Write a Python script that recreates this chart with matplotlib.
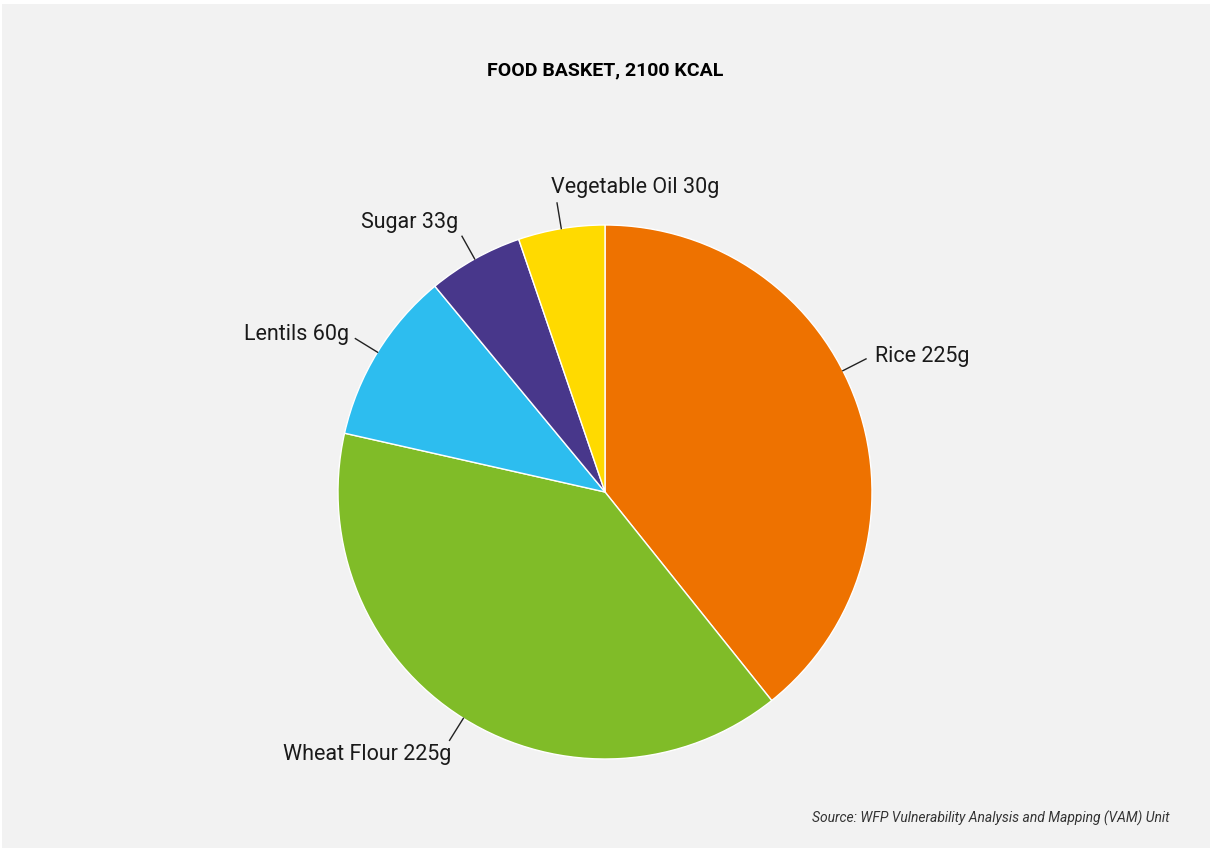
import numpy as np
import matplotlib.pyplot as plt
from matplotlib.patches import Rectangle

### Data ###
foods = ["Rice", "Wheat Flour", "Lentils", "Sugar", "Vegetable Oil"]
grams = [225, 225, 60, 33, 30]
colors = ["#ee7200", "#80bc28", "#2dbdef", "#48378b", "#ffda00"]

### Label layout (pixels) ###
# extra angle to nudge a label anchor away from the slice middle
label_shift = [7.7, 0, 0, 0, 0]
# text offset from the end of the connector, and alignment
text_offset = [(9, 2), (2, -14), (-6, 4), (-4, 14), (-6, 15)]
text_align = ["left", "right", "right", "right", "left"]

W, H = 1210, 848
cx, cy, R = 605, 492, 267
conn_len = 26

plt.rcParams['font.family'] = ['Roboto', 'DejaVu Sans']

fig = plt.figure(figsize=(W / 100, H / 100), dpi=100, facecolor="white")
fig.patches.append(Rectangle((2 / W, 0), (W - 2) / W, (H - 4) / H,
                             transform=fig.transFigure, facecolor="#f2f2f2",
                             edgecolor="none", zorder=-10))

ax = fig.add_axes([(cx - R) / W, (H - cy - R) / H, 2 * R / W, 2 * R / H])
ax.set_zorder(5)
ax.set_facecolor("none")
wedges, _ = ax.pie(grams, colors=colors, startangle=90, counterclock=False,
                   radius=1, wedgeprops=dict(edgecolor="white", linewidth=1))
ax.set_xlim(-1, 1)
ax.set_ylim(-1, 1)
ax.set_aspect("equal")
ax.axis("off")

px = 1.0 / R  # one pixel in data units
for i, w in enumerate(wedges):
    ang = np.deg2rad((w.theta1 + w.theta2) / 2 + label_shift[i])
    x0, y0 = np.cos(ang), np.sin(ang)
    x1, y1 = (1 + conn_len * px) * x0, (1 + conn_len * px) * y0
    ax.plot([x0, x1], [y0, y1], color="#222222", lw=1, clip_on=False)
    dx, dy = text_offset[i]
    ax.text(x1 + dx * px, y1 + dy * px, f"{foods[i]} {grams[i]}g",
            ha=text_align[i], va="center", fontsize=15.5, fontweight="normal",
            color="#1a1a1a")

fig.text(605 / W, 1 - 70 / H, "FOOD BASKET, 2100 KCAL", ha="center", va="center",
         fontsize=14, fontweight="bold", color="black")
fig.text(1170 / W, 1 - 818 / H,
         "Source: WFP Vulnerability Analysis and Mapping (VAM) Unit",
         ha="right", va="center", fontsize=10, style="italic", color="#333333")

fig.savefig("out.png", dpi=100, facecolor=fig.get_facecolor())
